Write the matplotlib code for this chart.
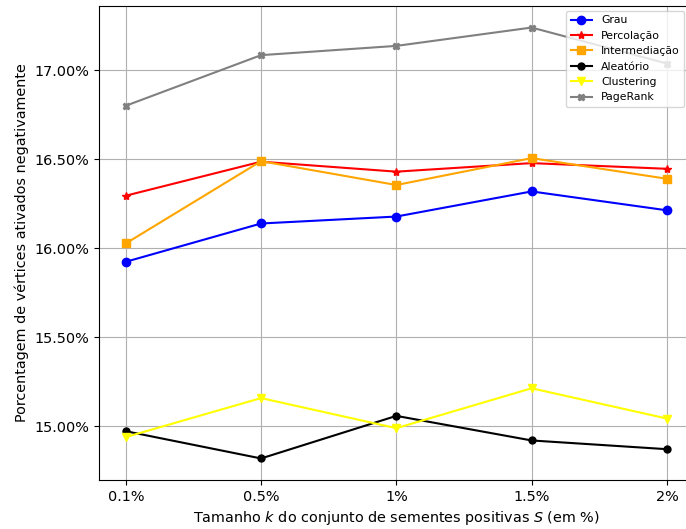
import numpy as np
import matplotlib.pyplot as plt
from matplotlib.ticker import FuncFormatter, MultipleLocator

# Tamanhos do conjunto de sementes
tamanhos = ["0.1%", "0.5%", "1%", "1.5%", "2%"]

# Porcentagem de vertices ativados negativamente (em %)
grau = [15.924, 16.139, 16.178, 16.319, 16.213]
percolacao = [16.295, 16.486, 16.430, 16.478, 16.446]
intermediacao = [16.027, 16.489, 16.355, 16.506, 16.390]
aleatorio = [14.973, 14.820, 15.059, 14.921, 14.872]
clustering = [14.940, 15.159, 14.990, 15.214, 15.044]
pagerank = [16.800, 17.084, 17.136, 17.239, 17.037]

fig = plt.figure(figsize=(6.86, 5.29), dpi=100)
ax = fig.add_axes([98.7 / 686, 1 - 480 / 529, (694 - 98.7) / 686, (480 - 6) / 529])

x = np.arange(len(tamanhos))
ax.plot(x, grau, color='blue', marker='o', markersize=6, label='Grau')
ax.plot(x, percolacao, color='red', marker='*', markersize=6, label='Percolação')
ax.plot(x, intermediacao, color='orange', marker='s', markersize=6, label='Intermediação')
ax.plot(x, aleatorio, color='black', marker='o', markersize=5, label='Aleatório')
ax.plot(x, clustering, color='yellow', marker='v', markersize=6, label='Clustering')
ax.plot(x, pagerank, color='gray', marker='X', markersize=5, label='PageRank')

ax.set_xticks(x)
ax.set_xticklabels(tamanhos)
ax.yaxis.set_major_locator(MultipleLocator(0.5))
ax.yaxis.set_major_formatter(FuncFormatter(lambda v, p: f"{v:.2f}%"))
ax.tick_params(labelsize=10.4)

ax.set_xlabel("Tamanho $k$ do conjunto de sementes positivas $S$ (em %)", fontsize=10.4)
ax.set_ylabel("Porcentagem de vértices ativados negativamente", fontsize=10.4)
ax.grid(True)
ax.legend(loc='upper right', fontsize=7.8, bbox_to_anchor=(684 / 686, 1 - 11 / 529),
          bbox_transform=fig.transFigure, borderaxespad=0)

fig.savefig('out.png', dpi=100)
